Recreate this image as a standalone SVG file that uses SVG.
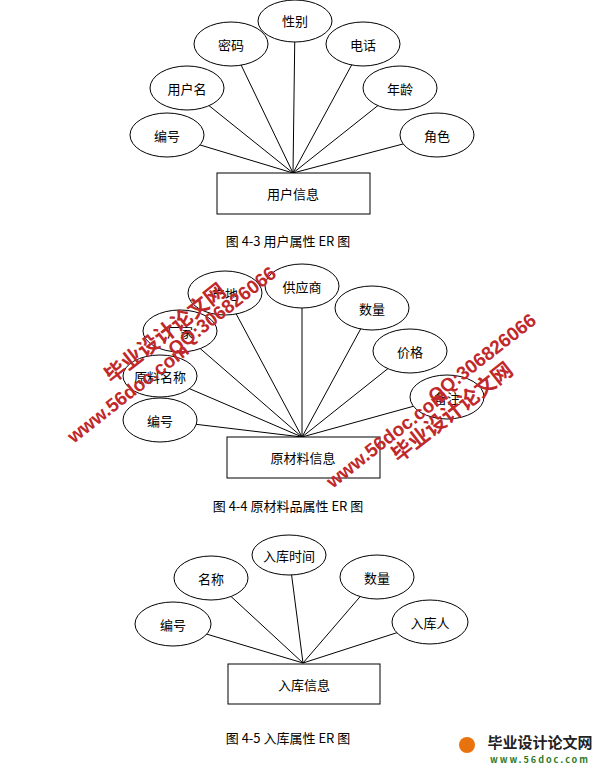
<svg xmlns="http://www.w3.org/2000/svg" width="610" height="767" viewBox="0 0 610 767">
<style>
.e{fill:#fff;stroke:#000;stroke-width:1}
.r{fill:#fff;stroke:#000;stroke-width:1}
.c line{stroke:#000;stroke-width:1}
text{font-family:"Noto Sans CJK SC","Liberation Sans",sans-serif;font-size:13px;fill:#000;text-anchor:middle;dominant-baseline:central}
.cap{font-family:"Noto Sans CJK SC","Liberation Serif",serif;font-size:13px}
.wm{fill:#c0282a;font-weight:bold;font-size:19px;font-family:"Liberation Sans","Noto Sans CJK SC",sans-serif}
.wz{font-size:21px}
</style>
<rect width="610" height="767" fill="#fff"/>
<g class="c" id="connectors">
<line x1="293" y1="173" x2="295" y2="21"/><line x1="293" y1="173" x2="231" y2="44"/><line x1="293" y1="173" x2="363" y2="44"/>
<line x1="293" y1="173" x2="187" y2="88"/><line x1="293" y1="173" x2="400" y2="88"/><line x1="293" y1="173" x2="167" y2="135"/><line x1="293" y1="173" x2="437" y2="135"/>
<line x1="302" y1="437" x2="225" y2="293"/><line x1="302" y1="437" x2="302" y2="286"/><line x1="302" y1="437" x2="372" y2="308"/>
<line x1="302" y1="437" x2="180" y2="331"/><line x1="302" y1="437" x2="410" y2="351"/><line x1="302" y1="437" x2="160" y2="376"/>
<line x1="302" y1="437" x2="447" y2="397"/><line x1="302" y1="437" x2="160" y2="420"/>
<line x1="303" y1="663" x2="289" y2="555"/><line x1="303" y1="663" x2="211" y2="578"/><line x1="303" y1="663" x2="377" y2="577"/>
<line x1="303" y1="663" x2="173" y2="624"/><line x1="303" y1="663" x2="430" y2="622"/>
</g>
<g id="u1"><ellipse class="e" cx="295" cy="21" rx="37" ry="21"/><text x="295" y="20">性别</text></g>
<g id="u2"><ellipse class="e" cx="231" cy="44" rx="37" ry="22"/><text x="231" y="44">密码</text></g>
<g id="u3"><ellipse class="e" cx="363" cy="44" rx="37" ry="22"/><text x="363" y="44">电话</text></g>
<g id="u4"><ellipse class="e" cx="187" cy="88" rx="37" ry="22"/><text x="187" y="88">用户名</text></g>
<g id="u5"><ellipse class="e" cx="400" cy="88" rx="37" ry="22"/><text x="400" y="88">年龄</text></g>
<g id="u6"><ellipse class="e" cx="167" cy="135" rx="37" ry="22"/><text x="167" y="135">编号</text></g>
<g id="u7"><ellipse class="e" cx="437" cy="135" rx="37" ry="22"/><text x="437" y="135">角色</text></g>
<g id="user"><rect class="r" x="217" y="173" width="153" height="41"/><text x="293" y="193">用户信息</text></g>
<text class="cap" x="288" y="240">图 4-3 用户属性 ER 图</text>
<g id="m1"><ellipse class="e" cx="225" cy="293" rx="37" ry="22"/><text x="225" y="293">产地</text></g>
<g id="m2"><ellipse class="e" cx="302" cy="286" rx="37" ry="22"/><text x="302" y="286">供应商</text></g>
<g id="m3"><ellipse class="e" cx="372" cy="308" rx="37" ry="22"/><text x="372" y="308">数量</text></g>
<g id="m4"><ellipse class="e" cx="180" cy="331" rx="37" ry="21"/><text x="180" y="331">厂家</text></g>
<g id="m5"><ellipse class="e" cx="410" cy="351" rx="37" ry="22"/><text x="410" y="351">价格</text></g>
<g id="m6"><ellipse class="e" cx="160" cy="376" rx="37" ry="21"/><text x="160" y="376">原料名称</text></g>
<g id="m7"><ellipse class="e" cx="447" cy="397" rx="37" ry="22"/><text x="447" y="397">备注</text></g>
<g id="m8"><ellipse class="e" cx="160" cy="420" rx="37" ry="22"/><text x="160" y="420">编号</text></g>
<g id="material"><rect class="r" x="227" y="437" width="153" height="41"/><text x="303" y="457">原材料信息</text></g>
<text class="cap" x="288" y="505">图 4-4 原材料品属性 ER 图</text>
<g id="s1"><ellipse class="e" cx="289" cy="555" rx="37" ry="20"/><text x="289" y="555">入库时间</text></g>
<g id="s2"><ellipse class="e" cx="211" cy="578" rx="37" ry="22"/><text x="211" y="578">名称</text></g>
<g id="s3"><ellipse class="e" cx="377" cy="577" rx="37" ry="22"/><text x="377" y="577">数量</text></g>
<g id="s4"><ellipse class="e" cx="173" cy="624" rx="38" ry="22"/><text x="173" y="624">编号</text></g>
<g id="s5"><ellipse class="e" cx="430" cy="622" rx="38" ry="22"/><text x="430" y="622">入库人</text></g>
<g id="stock"><rect class="r" x="228" y="664" width="152" height="40"/><text x="304" y="684">入库信息</text></g>
<text class="cap" x="288" y="737">图 4-5 入库属性 ER 图</text>
<g id="watermark">
<text class="wm wz" transform="translate(165,333) rotate(-38)">毕业设计论文网</text>
<text class="wm" transform="translate(128,393) rotate(-38)">www.56doc.com</text>
<text class="wm" transform="translate(222,311) rotate(-38)">QQ:306826066</text>
<text class="wm" transform="translate(387,438) rotate(-38)">www.56doc.com</text>
<text class="wm wz" transform="translate(452,412) rotate(-38)">毕业设计论文网</text>
<text class="wm" transform="translate(482,358) rotate(-38)">QQ:306826066</text>
</g>
<g id="logo">
<circle cx="467" cy="745" r="8" fill="#e8730e"/>
<text x="540" y="741" style="font-weight:bold;font-size:15px;fill:#222">毕业设计论文网</text>
<text x="540" y="759" style="font-weight:bold;font-size:9px;fill:#2a7a2a;letter-spacing:2px">www.56doc.com</text>
</g>
</svg>
